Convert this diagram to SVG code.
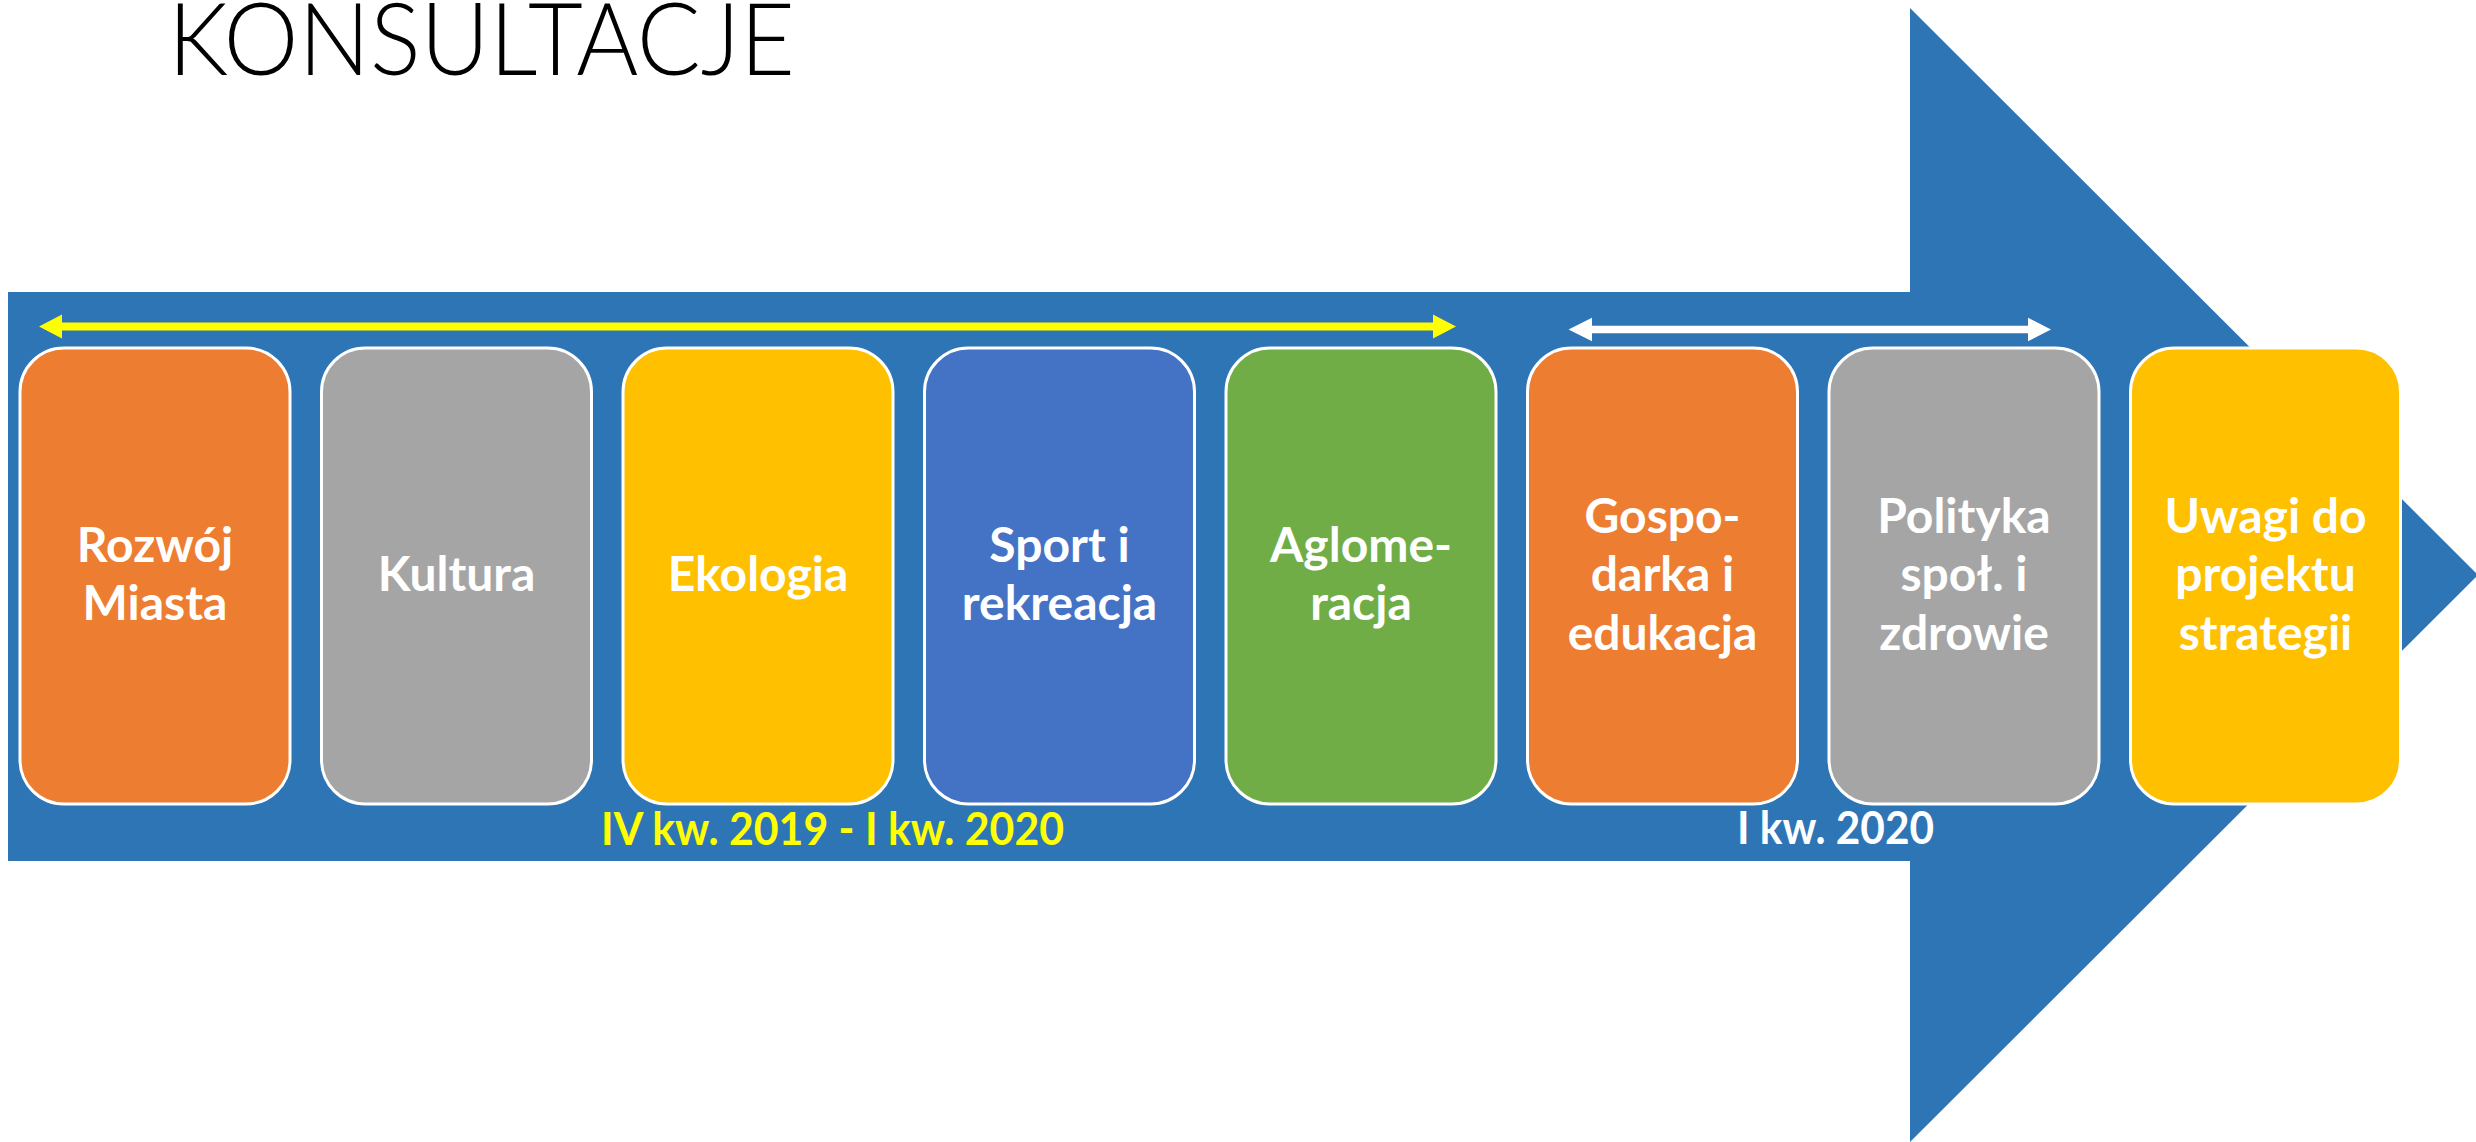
<svg xmlns="http://www.w3.org/2000/svg" width="2476" height="1142" viewBox="0 0 2476 1142">
<style>
.node rect{stroke:#FFFFFF;stroke-width:3}
.lbl{font-family:Lato,"Liberation Sans",sans-serif;font-weight:bold;font-size:48px;fill:#FFFFFF;text-anchor:middle}
.per{font-family:Lato,"Liberation Sans",sans-serif;font-weight:bold;font-size:46px}
.title{font-family:Lato,"Open Sans","Liberation Sans",sans-serif;font-weight:300;font-size:100px;fill:#000000}
</style>
<rect width="2476" height="1142" fill="#FFFFFF"/>
<text class="title" x="168" y="75" textLength="627" lengthAdjust="spacingAndGlyphs">KONSULTACJE</text>
<path id="bigarrow" d="M8,292 H1910 V8 L2478,575 L1910,1142 V861 H8 Z" fill="#2E75B6"/>
<g id="connectors">
<polygon fill="#FFFF00" points="39,326.5 62,314.5 62,322.5 1433,322.5 1433,314.5 1456,326.5 1433,338.5 1433,330.5 62,330.5 62,338.5"/>
<polygon fill="#FFFFFF" points="1568.5,329.5 1592,317.8 1592,325.7 2028,325.7 2028,317.8 2051,329.5 2028,341.2 2028,333.3 1592,333.3 1592,341.2"/>
</g>
<g id="n1" class="node"><rect x="20" y="348" width="270" height="456" rx="44" fill="#ED7D31"/><text class="lbl" x="155" y="562">Rozwój</text><text class="lbl" x="155" y="620">Miasta</text></g>
<g id="n2" class="node"><rect x="321.5" y="348" width="270" height="456" rx="44" fill="#A5A5A5"/><text class="lbl" x="456.5" y="591">Kultura</text></g>
<g id="n3" class="node"><rect x="623" y="348" width="270" height="456" rx="44" fill="#FFC000"/><text class="lbl" x="758" y="591">Ekologia</text></g>
<g id="n4" class="node"><rect x="924.5" y="348" width="270" height="456" rx="44" fill="#4472C4"/><text class="lbl" x="1059.5" y="562">Sport i</text><text class="lbl" x="1059.5" y="620">rekreacja</text></g>
<g id="n5" class="node"><rect x="1226" y="348" width="270" height="456" rx="44" fill="#70AD47"/><text class="lbl" x="1361" y="562">Aglome-</text><text class="lbl" x="1361" y="620">racja</text></g>
<g id="n6" class="node"><rect x="1527.5" y="348" width="270" height="456" rx="44" fill="#ED7D31"/><text class="lbl" x="1662.5" y="533">Gospo-</text><text class="lbl" x="1662.5" y="591">darka i</text><text class="lbl" x="1662.5" y="650">edukacja</text></g>
<g id="n7" class="node"><rect x="1829" y="348" width="270" height="456" rx="44" fill="#A5A5A5"/><text class="lbl" x="1964" y="533">Polityka</text><text class="lbl" x="1964" y="591">społ. i</text><text class="lbl" x="1964" y="650">zdrowie</text></g>
<g id="n8" class="node"><rect x="2130.5" y="348" width="270" height="456" rx="44" fill="#FFC000"/><text class="lbl" x="2265.5" y="533">Uwagi do</text><text class="lbl" x="2265.5" y="591">projektu</text><text class="lbl" x="2265.5" y="650">strategii</text></g>
<text class="per" x="601" y="845" fill="#FFFF00" textLength="463" lengthAdjust="spacingAndGlyphs">IV kw. 2019 - I kw. 2020</text>
<text class="per" x="1737" y="844" fill="#FFFFFF" textLength="197" lengthAdjust="spacingAndGlyphs">I kw. 2020</text>
</svg>
